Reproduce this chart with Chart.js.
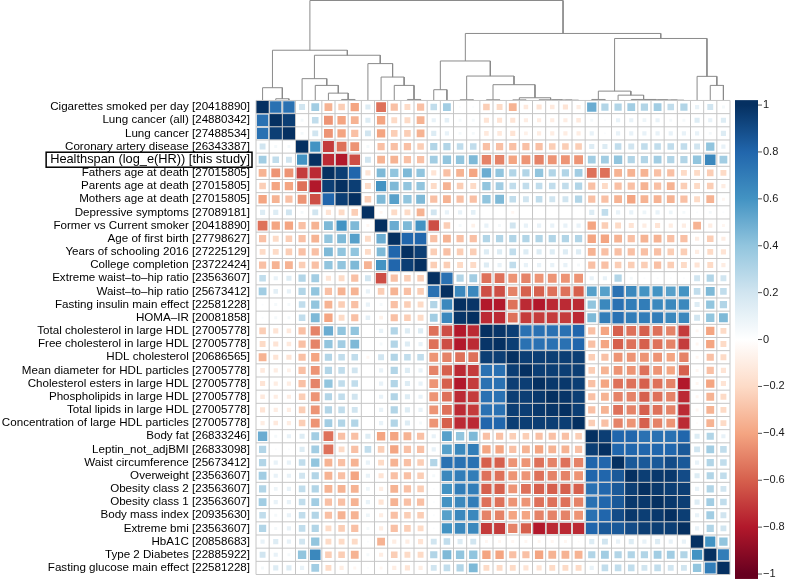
<!DOCTYPE html>
<html>
<head>
<meta charset="utf-8">
<script src="https://cdn.jsdelivr.net/npm/chart.js@4.4.1/dist/chart.umd.min.js"></script>
<style>
  html, body { margin: 0; padding: 0; background: #fff; }
  #wrap { width: 787px; height: 580px; }
</style>
</head>
<body>
<div id="wrap"><canvas id="heat" width="787" height="580"></canvas></div>
<script>
const traits = [
  'Cigarettes smoked per day [20418890]', 'Lung cancer (all) [24880342]', 'Lung cancer [27488534]',
  'Coronary artery disease [26343387]', 'Healthspan (log_e(HR)) [this study]', 'Fathers age at death [27015805]',
  'Parents age at death [27015805]', 'Mothers age at death [27015805]', 'Depressive symptoms [27089181]',
  'Former vs Current smoker [20418890]', 'Age of first birth [27798627]', 'Years of schooling 2016 [27225129]',
  'College completion [23722424]', 'Extreme waist\u2013to\u2013hip ratio [23563607]', 'Waist\u2013to\u2013hip ratio [25673412]',
  'Fasting insulin main effect [22581228]', 'HOMA\u2013IR [20081858]', 'Total cholesterol in large HDL [27005778]',
  'Free cholesterol in large HDL [27005778]', 'HDL cholesterol [20686565]', 'Mean diameter for HDL particles [27005778]',
  'Cholesterol esters in large HDL [27005778]', 'Phospholipids in large HDL [27005778]', 'Total lipids in large HDL [27005778]',
  'Concentration of large HDL particles [27005778]', 'Body fat [26833246]', 'Leptin_not_adjBMI [26833098]',
  'Waist circumference [25673412]', 'Overweight [23563607]', 'Obesity class 2 [23563607]', 'Obesity class 1 [23563607]',
  'Body mass index [20935630]', 'Extreme bmi [23563607]', 'HbA1C [20858683]', 'Type 2 Diabetes [22885922]',
  'Fasting glucose main effect [22581228]'
];

// genetic correlations, row i holds columns i..35 (matrix is symmetric)
const upper = [
  [1, 0.75, 0.75, 0.2, 0.35, -0.35, -0.25, -0.4, 0.15, -0.55, -0.3, -0.2, -0.3, 0.25, 0.35, 0.02, 0.02, -0.25, -0.2, -0.35, -0.12, -0.15, -0.12, -0.15, -0.1, 0.5, 0.3, 0.3, 0.35, 0.3, 0.35, 0.25, 0.3, 0.1, 0.2, 0.05],
  [1, 0.95, 0.05, 0.25, -0.45, -0.4, -0.35, 0.15, -0.4, -0.2, -0.2, -0.35, 0.1, 0.12, 0.05, 0.05, -0.15, -0.15, -0.15, -0.1, -0.1, -0.1, -0.1, -0.12, 0.05, 0.02, 0.1, 0.1, 0.08, 0.1, 0.05, 0.05, 0.15, 0.1, 0.15],
  [1, 0.05, 0.2, -0.45, -0.4, -0.3, 0.2, -0.4, -0.25, -0.25, -0.35, 0.15, 0.1, 0.05, 0.05, -0.12, -0.12, -0.15, -0.08, -0.1, -0.1, -0.1, -0.1, 0.1, 0.02, 0.1, 0.1, 0.1, 0.1, 0.1, 0.1, 0.1, 0.05, 0.15],
  [1, 0.6, -0.7, -0.55, -0.45, 0.05, -0.3, -0.3, -0.3, -0.25, 0.3, 0.3, 0.25, 0.25, -0.3, -0.3, -0.3, -0.3, -0.3, -0.25, -0.25, -0.25, 0.15, 0.15, 0.25, 0.2, 0.25, 0.25, 0.25, 0.25, 0.2, 0.4, 0.1],
  [1, -0.75, -0.8, -0.65, 0.2, -0.35, -0.35, -0.3, -0.3, 0.35, 0.4, 0.4, 0.45, -0.5, -0.5, -0.4, -0.45, -0.5, -0.45, -0.45, -0.45, 0.35, 0.35, 0.4, 0.3, 0.3, 0.35, 0.3, 0.3, 0.4, 0.65, 0.35],
  [1, 0.95, 0.8, -0.15, 0.45, 0.4, 0.45, 0.4, -0.15, -0.3, -0.35, -0.4, 0.5, 0.4, 0.3, 0.3, 0.4, 0.3, 0.3, 0.35, -0.55, -0.55, -0.35, -0.35, -0.35, -0.3, -0.3, -0.2, -0.2, -0.25, -0.2],
  [1, 0.95, -0.2, 0.6, 0.45, 0.4, 0.4, -0.2, -0.35, -0.25, -0.2, 0.4, 0.35, 0.25, 0.25, 0.25, 0.25, 0.25, 0.3, -0.3, -0.2, -0.3, -0.3, -0.35, -0.3, -0.35, -0.25, -0.2, -0.25, -0.1],
  [1, -0.25, 0.45, 0.55, 0.4, 0.45, -0.3, -0.35, -0.3, -0.3, 0.4, 0.45, 0.25, 0.2, 0.25, 0.2, 0.2, 0.3, -0.3, -0.3, -0.35, -0.4, -0.35, -0.35, -0.35, -0.3, -0.2, -0.35, -0.05],
  [1, -0.05, -0.2, -0.2, -0.35, 0.2, 0.1, 0.1, 0.12, 0, 0, -0.05, 0, 0, 0, 0, 0, 0.15, 0.25, 0.1, 0.1, 0.08, 0.1, 0.08, 0.05, 0.02, 0.05, 0.02],
  [1, 0.5, 0.45, 0.6, -0.65, -0.25, 0.05, -0.08, 0.1, 0.05, 0.2, 0.1, 0.1, 0.1, 0.1, 0.1, -0.4, -0.25, -0.2, -0.15, -0.1, -0.15, -0.1, -0.1, -0.35, -0.1, -0.05],
  [1, 0.8, 0.8, -0.3, -0.35, -0.3, -0.3, 0.3, 0.3, 0.3, 0.3, 0.3, 0.3, 0.3, 0.3, -0.4, -0.4, -0.35, -0.3, -0.35, -0.35, -0.3, -0.3, -0.1, -0.25, -0.1],
  [1, 0.95, -0.25, -0.3, -0.25, -0.25, 0.15, 0.15, 0.25, 0.15, 0.15, 0.15, 0.15, 0.15, -0.35, -0.3, -0.3, -0.3, -0.3, -0.3, -0.25, -0.25, -0.1, -0.2, -0.15],
  [1, -0.25, -0.25, -0.2, -0.2, 0.15, 0.1, 0.25, 0.1, 0.1, 0.1, 0.1, 0.05, -0.3, -0.3, -0.25, -0.25, -0.25, -0.3, -0.25, -0.2, -0.15, -0.2, -0.1],
  [1, 0.75, 0.3, 0.35, -0.55, -0.55, -0.45, -0.5, -0.45, -0.45, -0.45, -0.45, 0.1, 0.1, 0.3, 0.05, 0.02, 0.02, 0.02, 0.02, 0.2, 0.3, 0.2],
  [1, 0.65, 0.65, -0.65, -0.65, -0.5, -0.6, -0.6, -0.55, -0.55, -0.6, 0.55, 0.55, 0.75, 0.65, 0.6, 0.6, 0.55, 0.6, 0.25, 0.45, 0.25],
  [1, 0.98, -0.8, -0.8, -0.55, -0.75, -0.8, -0.75, -0.75, -0.75, 0.4, 0.65, 0.75, 0.7, 0.7, 0.65, 0.65, 0.65, 0.15, 0.4, 0.3],
  [1, -0.75, -0.75, -0.55, -0.7, -0.7, -0.7, -0.7, -0.75, 0.45, 0.7, 0.75, 0.7, 0.7, 0.7, 0.65, 0.65, 0.2, 0.4, 0.45],
  [1, 0.98, 0.95, 0.75, 0.75, 0.75, 0.75, 0.8, -0.3, -0.4, -0.6, -0.55, -0.6, -0.55, -0.5, -0.7, -0.05, -0.4, -0.2],
  [1, 0.95, 0.75, 0.75, 0.75, 0.75, 0.8, -0.3, -0.4, -0.6, -0.55, -0.6, -0.55, -0.5, -0.7, -0.05, -0.4, -0.2],
  [1, 0.95, 0.95, 0.95, 0.95, 0.95, -0.25, -0.3, -0.45, -0.45, -0.45, -0.45, -0.4, -0.5, -0.05, -0.3, -0.2],
  [1, 0.95, 0.95, 0.95, 0.95, -0.25, -0.35, -0.45, -0.45, -0.55, -0.45, -0.4, -0.6, -0.05, -0.3, -0.15],
  [1, 0.97, 0.97, 0.95, -0.3, -0.4, -0.55, -0.55, -0.6, -0.55, -0.5, -0.8, -0.05, -0.4, -0.15],
  [1, 0.98, 0.95, -0.3, -0.35, -0.5, -0.5, -0.6, -0.55, -0.5, -0.75, -0.05, -0.35, -0.2],
  [1, 0.95, -0.3, -0.35, -0.55, -0.5, -0.6, -0.55, -0.5, -0.75, -0.05, -0.35, -0.2],
  [1, -0.25, -0.3, -0.5, -0.45, -0.6, -0.5, -0.45, -0.75, -0.02, -0.35, -0.2],
  [1, 0.95, 0.8, 0.8, 0.75, 0.75, 0.75, 0.8, 0.15, 0.3, 0.1],
  [1, 0.8, 0.8, 0.8, 0.8, 0.8, 0.85, 0.2, 0.35, 0.25],
  [1, 0.85, 0.85, 0.85, 0.9, 0.85, 0.1, 0.3, 0.25],
  [1, 0.95, 0.97, 0.97, 0.9, 0.15, 0.3, 0.25],
  [1, 0.97, 0.95, 0.95, 0.1, 0.3, 0.2],
  [1, 0.97, 0.95, 0.15, 0.35, 0.25],
  [1, 0.95, 0.1, 0.35, 0.2],
  [1, 0.1, 0.3, 0.2],
  [1, 0.6, 0.4],
  [1, 0.7],
  [1]
];

// clustering tree, hclust style: negative = leaf (1-based), positive = earlier merge; height 0..1
const merges = [
  [-2, -3, 0.017], [-1, 1, 0.127], [-7, -8, 0.01], [-6, 3, 0.073], [-5, 4, 0.15], [-4, 5, 0.217],
  [-12, -13, 0.01], [-11, 7, 0.15], [-10, 8, 0.233], [-9, 9, 0.367], [6, 10, 0.45], [2, 11, 0.5],
  [-14, -15, 0.107], [-16, -17, 0.007], [-18, -19, 0.007], [-20, -21, 0.006], [-24, -25, 0.003],
  [-23, 17, 0.005], [-22, 18, 0.007], [16, 19, 0.027], [15, 20, 0.157], [14, 21, 0.243], [13, 22, 0.393],
  [-26, -27, 0.01], [-32, -33, 0.003], [-31, 25, 0.005], [-30, 26, 0.007], [-29, 27, 0.01], [-28, 28, 0.053],
  [24, 29, 0.093], [-35, -36, 0.15], [-34, 31, 0.24], [30, 32, 0.617], [23, 33, 0.667], [12, 34, 0.995]
];

const palette = ['#67001F', '#B2182B', '#D6604D', '#F4A582', '#FDDBC7', '#FFFFFF',
                 '#D1E5F0', '#92C5DE', '#4393C3', '#2166AC', '#053061'];
const barTicks = [1, 0.8, 0.6, 0.4, 0.2, 0, -0.2, -0.4, -0.6, -0.8, -1];

const n = traits.length;
const studyRow = 4;
const dendroRows = 7.63;   // room above the matrix, in rows
const family = '"Liberation Sans", Arial, sans-serif';
const labelSize = 11.6, studySize = 12.8;

function corrAt(i, j) {
  return i <= j ? upper[i][j - i] : upper[j][i - j];
}

function hex(c) {
  return [1, 3, 5].map(k => parseInt(c.slice(k, k + 2), 16));
}
function colorFor(v) {
  const t = (v + 1) / 2 * (palette.length - 1);
  const i = Math.min(Math.floor(t), palette.length - 2);
  const f = t - i;
  const a = hex(palette[i]), b = hex(palette[i + 1]);
  const c = a.map((x, k) => Math.round(x + (b[k] - x) * f));
  return `rgb(${c[0]},${c[1]},${c[2]})`;
}

const cells = [];
for (let i = 0; i < n; i++) {
  for (let j = 0; j < n; j++) {
    cells.push({ x: j, y: i, v: corrAt(i, j) });
  }
}

// dendrogram segments
const nodeX = [], nodeH = [];
function nodeOf(id) {
  return id < 0 ? { x: -id - 1, h: 0 } : { x: nodeX[id - 1], h: nodeH[id - 1] };
}
const dendroSets = merges.map(([a, b, h], k) => {
  const pa = nodeOf(a), pb = nodeOf(b);
  nodeX[k] = (pa.x + pb.x) / 2;
  nodeH[k] = h;
  return {
    type: 'scatter',
    showLine: true,
    data: [{ x: pa.x, y: pa.h }, { x: pa.x, y: h }, { x: pb.x, y: h }, { x: pb.x, y: pb.h }],
    yAxisID: 'yd',
    borderColor: '#8a8a8a',
    borderWidth: 1,
    pointRadius: 0,
    fill: false
  };
});

const extras = {
  id: 'extras',
  afterDatasetsDraw(chart) {
    const { ctx } = chart;
    const xs = chart.scales.x, ys = chart.scales.y, cb = chart.scales.cb;
    ctx.save();

    // cell grid
    ctx.strokeStyle = '#c6c6c6';
    ctx.lineWidth = 1;
    ctx.beginPath();
    for (let k = 0; k <= n; k++) {
      const px = xs.getPixelForValue(k - 0.5);
      ctx.moveTo(px, ys.getPixelForValue(-0.5));
      ctx.lineTo(px, ys.getPixelForValue(n - 0.5));
      const py = ys.getPixelForValue(k - 0.5);
      ctx.moveTo(xs.getPixelForValue(-0.5), py);
      ctx.lineTo(xs.getPixelForValue(n - 0.5), py);
    }
    ctx.stroke();

    // box around this study's trait
    ctx.font = `${studySize}px ${family}`;
    const w = ctx.measureText(traits[studyRow]).width;
    const xr = ys.right - ys.options.ticks.padding;
    const py = ys.getPixelForValue(studyRow);
    ctx.strokeStyle = '#000';
    ctx.lineWidth = 1.5;
    ctx.strokeRect(xr - w - 4, py - 7.5, w + 6, 15);

    // colour bar
    const x0 = cb.left + 5, x1 = cb.left + 28;
    const g = ctx.createLinearGradient(0, cb.getPixelForValue(1), 0, cb.getPixelForValue(-1));
    palette.forEach((c, i) => g.addColorStop(1 - i / (palette.length - 1), c));
    ctx.fillStyle = g;
    const top = cb.getPixelForValue(1.021), bot = cb.getPixelForValue(-1.021);
    ctx.fillRect(x0, top, x1 - x0, bot - top);
    ctx.strokeStyle = '#555';
    ctx.lineWidth = 1;
    ctx.beginPath();
    barTicks.forEach(v => {
      const p = cb.getPixelForValue(v);
      ctx.moveTo(x1, p);
      ctx.lineTo(x1 + 4, p);
    });
    ctx.stroke();
    ctx.restore();
  }
};

new Chart(document.getElementById('heat'), {
  type: 'scatter',
  data: {
    datasets: [{
      data: cells,
      pointStyle: 'rect',
      borderWidth: 0,
      backgroundColor: c => (c.raw ? colorFor(c.raw.v) : '#fff'),
      pointRadius: c => {
        if (!c.raw) return 0;
        const xs = c.chart.scales.x;
        const cell = Math.abs(xs.getPixelForValue(1) - xs.getPixelForValue(0));
        return Math.sqrt(Math.abs(c.raw.v)) * cell / Math.SQRT2;
      }
    }, ...dendroSets]
  },
  options: {
    responsive: false,
    animation: false,
    events: [],
    layout: { padding: { top: 0, right: 0, bottom: 5.5, left: 0 } },
    plugins: { legend: { display: false }, tooltip: { enabled: false } },
    scales: {
      x: { type: 'linear', min: -0.5, max: n - 0.5, display: false },
      y: {
        type: 'linear',
        min: -0.5 - dendroRows,
        max: n - 0.5,
        reverse: true,
        afterBuildTicks: s => { s.ticks = traits.map((_, i) => ({ value: i })); },
        afterFit: s => { s.width = 256; s.paddingTop = 0; s.paddingBottom = 0; },
        ticks: {
          autoSkip: false,
          padding: 6,
          color: '#000',
          font: c => ({ family, size: c.index === studyRow ? studySize : labelSize }),
          callback: v => traits[v]
        },
        grid: { display: false, drawTicks: false },
        border: { display: false }
      },
      yd: { type: 'linear', display: false, min: -n / dendroRows, max: 1 },
      cb: {
        type: 'linear',
        position: 'right',
        min: -1.002,
        max: 1.448,
        afterBuildTicks: s => { s.ticks = barTicks.map(v => ({ value: v })); },
        afterFit: s => { s.width = 57; s.paddingTop = 0; s.paddingBottom = 0; },
        ticks: {
          padding: 33,
          color: '#1a1a1a',
          font: { family, size: 11 },
          callback: v => (v < 0 ? '\u2212' + Math.abs(v) : String(v))
        },
        grid: { display: false, drawTicks: false },
        border: { display: false }
      }
    }
  },
  plugins: [extras]
});
</script>
</body>
</html>
